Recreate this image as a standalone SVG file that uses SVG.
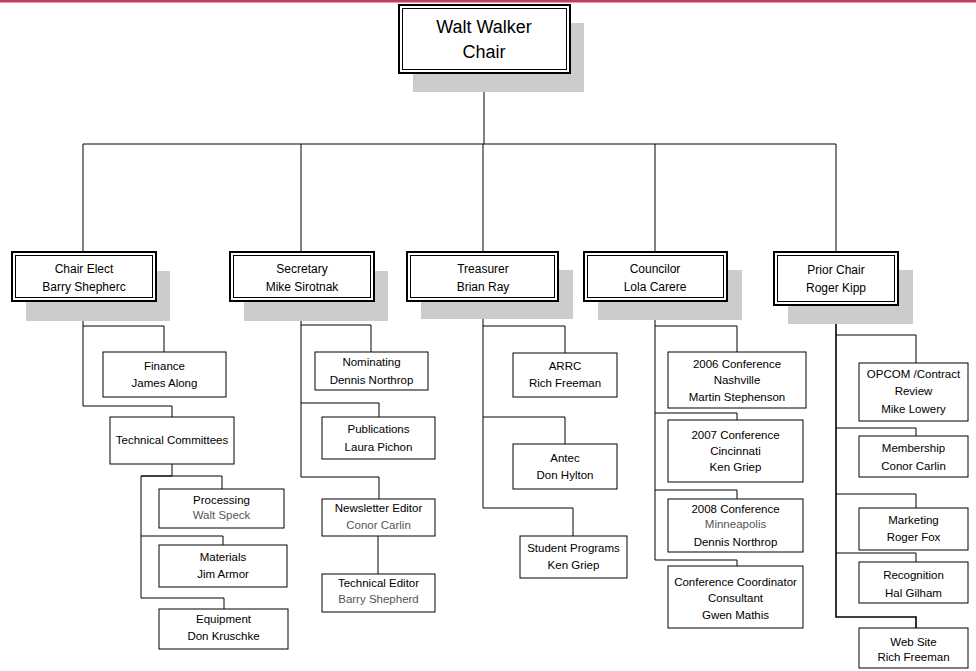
<svg xmlns="http://www.w3.org/2000/svg" width="976" height="671" viewBox="0 0 976 671">
<style>
text{font-family:"Liberation Sans",Arial,sans-serif;text-anchor:middle;dominant-baseline:central;fill:#000}
.t1{font-size:18px}
.t2{font-size:12px}
.t3{font-size:11.5px}
.g{fill:#555}
.sh{fill:#cccccc}
.ob{fill:#fff;stroke:#000;stroke-width:2}
.ib{fill:none;stroke:#000;stroke-width:1}
.bx{fill:#fff;stroke:#000;stroke-width:1}
.cn{fill:none;stroke:#000;stroke-width:1}
.ck{fill:none;stroke:#000;stroke-width:1.6}
</style>
<rect x="0" y="0" width="976" height="2.5" fill="#c23b5c"/>
<g id="connectors">
<path class="cn" d="M484 73 V144 M83 144 H836 M83 144 V252 M301 144 V252 M483 144 V252 M655 144 V252 M836 144 V252"/>
<path class="cn" d="M83 301 V406 H172 V417 M83 326 H164 V352"/>
<path class="cn" d="M172 464 V476 H141 V598 H224 V609 M141 476 H222 V489 M141 536 H223 V545"/>
<path class="cn" d="M301 301 V477 H379 V499 M301 325 H371 V352 M301 403 H379 V417 M378 536 V574"/>
<path class="cn" d="M483 301 V508 H573 V536 M483 326 H565 V353 M483 417 H565 V444"/>
<path class="cn" d="M655 301 V560 H737 V566 M655 326 H737 V352 M655 413 H737 V420 M655 490 H737 V499"/>
<path class="ck" d="M836 305 V617 H916 V628"/>
<path class="cn" d="M836 335 H916 V363 M836 428 H916 V436 M836 494 H916 V508 M836 553 H916 V562"/>
</g>
<g id="chair">
<rect class="sh" x="413" y="23" width="171" height="69"/>
<rect class="ob" x="399" y="5" width="171" height="68"/>
<rect class="ib" x="402.5" y="8.5" width="164" height="61"/>
<text class="t1" x="484" y="27">Walt Walker</text>
<text class="t1" x="484" y="52">Chair</text>
</g>
<g id="chair-elect">
<rect class="sh" x="26" y="271" width="144" height="50"/>
<rect class="ob" x="12" y="252" width="144" height="49"/>
<rect class="ib" x="15.5" y="255.5" width="137" height="42"/>
<text class="t2" x="84" y="269">Chair Elect</text>
<text class="t2" x="84" y="287">Barry Shepherc</text>
</g>
<g id="secretary">
<rect class="sh" x="244" y="271" width="144" height="50"/>
<rect class="ob" x="230" y="252" width="144" height="49"/>
<rect class="ib" x="233.5" y="255.5" width="137" height="42"/>
<text class="t2" x="302" y="269">Secretary</text>
<text class="t2" x="302" y="287">Mike Sirotnak</text>
</g>
<g id="treasurer">
<rect class="sh" x="421" y="270" width="152" height="49"/>
<rect class="ob" x="407" y="252" width="151" height="49"/>
<rect class="ib" x="410.5" y="255.5" width="144" height="42"/>
<text class="t2" x="483" y="269">Treasurer</text>
<text class="t2" x="483" y="287">Brian Ray</text>
</g>
<g id="councilor">
<rect class="sh" x="598" y="270" width="144" height="50"/>
<rect class="ob" x="584" y="252" width="143" height="49"/>
<rect class="ib" x="587.5" y="255.5" width="136" height="42"/>
<text class="t2" x="655" y="269">Councilor</text>
<text class="t2" x="655" y="287">Lola Carere</text>
</g>
<g id="prior-chair">
<rect class="sh" x="788" y="270" width="125" height="54"/>
<rect class="ob" x="774" y="252" width="124" height="53"/>
<rect class="ib" x="777.5" y="255.5" width="117" height="46"/>
<text class="t2" x="836" y="270">Prior Chair</text>
<text class="t2" x="836" y="288">Roger Kipp</text>
</g>
<g id="finance">
<rect class="bx" x="103" y="352" width="123" height="45"/>
<text class="t3" x="164.5" y="366">Finance</text>
<text class="t3" x="164.5" y="383">James Along</text>
</g>
<g id="technical-committees">
<rect class="bx" x="110" y="417" width="124" height="47"/>
<text class="t3" x="172" y="440">Technical Committees</text>
</g>
<g id="processing">
<rect class="bx" x="159" y="489" width="125" height="39"/>
<text class="t3" x="221.5" y="500">Processing</text>
<text class="t3 g" x="221.5" y="515">Walt Speck</text>
</g>
<g id="materials">
<rect class="bx" x="159" y="545" width="128" height="42"/>
<text class="t3" x="223" y="557">Materials</text>
<text class="t3" x="223" y="574">Jim Armor</text>
</g>
<g id="equipment">
<rect class="bx" x="159" y="609" width="129" height="40"/>
<text class="t3" x="223.5" y="619">Equipment</text>
<text class="t3" x="223.5" y="636">Don Kruschke</text>
</g>
<g id="nominating">
<rect class="bx" x="315" y="352" width="113" height="38"/>
<text class="t3" x="371.5" y="362">Nominating</text>
<text class="t3" x="371.5" y="380">Dennis Northrop</text>
</g>
<g id="publications">
<rect class="bx" x="322" y="417" width="113" height="42"/>
<text class="t3" x="378.5" y="429">Publications</text>
<text class="t3" x="378.5" y="447">Laura Pichon</text>
</g>
<g id="newsletter-editor">
<rect class="bx" x="322" y="499" width="113" height="37"/>
<text class="t3" x="378.5" y="508">Newsletter Editor</text>
<text class="t3 g" x="378.5" y="525">Conor Carlin</text>
</g>
<g id="technical-editor">
<rect class="bx" x="322" y="574" width="113" height="38"/>
<text class="t3" x="378.5" y="583">Technical Editor</text>
<text class="t3 g" x="378.5" y="599">Barry Shepherd</text>
</g>
<g id="arrc">
<rect class="bx" x="513" y="353" width="104" height="44"/>
<text class="t3" x="565" y="366">ARRC</text>
<text class="t3" x="565" y="383">Rich Freeman</text>
</g>
<g id="antec">
<rect class="bx" x="513" y="444" width="104" height="45"/>
<text class="t3" x="565" y="458">Antec</text>
<text class="t3" x="565" y="475">Don Hylton</text>
</g>
<g id="student-programs">
<rect class="bx" x="520" y="536" width="107" height="42"/>
<text class="t3" x="573.5" y="548">Student Programs</text>
<text class="t3" x="573.5" y="565">Ken Griep</text>
</g>
<g id="conf-2006">
<rect class="bx" x="668" y="352" width="138" height="56"/>
<text class="t3" x="737" y="364">2006  Conference</text>
<text class="t3" x="737" y="380">Nashville</text>
<text class="t3" x="737" y="397">Martin Stephenson</text>
</g>
<g id="conf-2007">
<rect class="bx" x="668" y="420" width="135" height="62"/>
<text class="t3" x="735.5" y="435">2007 Conference</text>
<text class="t3" x="735.5" y="451">Cincinnati</text>
<text class="t3" x="735.5" y="467">Ken Griep</text>
</g>
<g id="conf-2008">
<rect class="bx" x="668" y="499" width="135" height="53"/>
<text class="t3" x="735.5" y="509">2008 Conference</text>
<text class="t3 g" x="735.5" y="524">Minneapolis</text>
<text class="t3" x="735.5" y="542">Dennis Northrop</text>
</g>
<g id="conf-coordinator">
<rect class="bx" x="668" y="566" width="135" height="62"/>
<text class="t3" x="735.5" y="582">Conference Coordinator</text>
<text class="t3" x="735.5" y="598">Consultant</text>
<text class="t3" x="735.5" y="615">Gwen Mathis</text>
</g>
<g id="opcom">
<rect class="bx" x="859" y="363" width="109" height="58"/>
<text class="t3" x="913.5" y="374">OPCOM /Contract</text>
<text class="t3" x="913.5" y="391">Review</text>
<text class="t3" x="913.5" y="409">Mike Lowery</text>
</g>
<g id="membership">
<rect class="bx" x="859" y="436" width="109" height="41"/>
<text class="t3" x="913.5" y="448">Membership</text>
<text class="t3" x="913.5" y="466">Conor Carlin</text>
</g>
<g id="marketing">
<rect class="bx" x="859" y="508" width="109" height="42"/>
<text class="t3" x="913.5" y="520">Marketing</text>
<text class="t3" x="913.5" y="537">Roger Fox</text>
</g>
<g id="recognition">
<rect class="bx" x="859" y="562" width="109" height="41"/>
<text class="t3" x="913.5" y="575">Recognition</text>
<text class="t3" x="913.5" y="593">Hal Gilham</text>
</g>
<g id="web-site">
<rect class="bx" x="859" y="628" width="109" height="40"/>
<text class="t3" x="913.5" y="642">Web Site</text>
<text class="t3" x="913.5" y="657">Rich Freeman</text>
</g>
</svg>
